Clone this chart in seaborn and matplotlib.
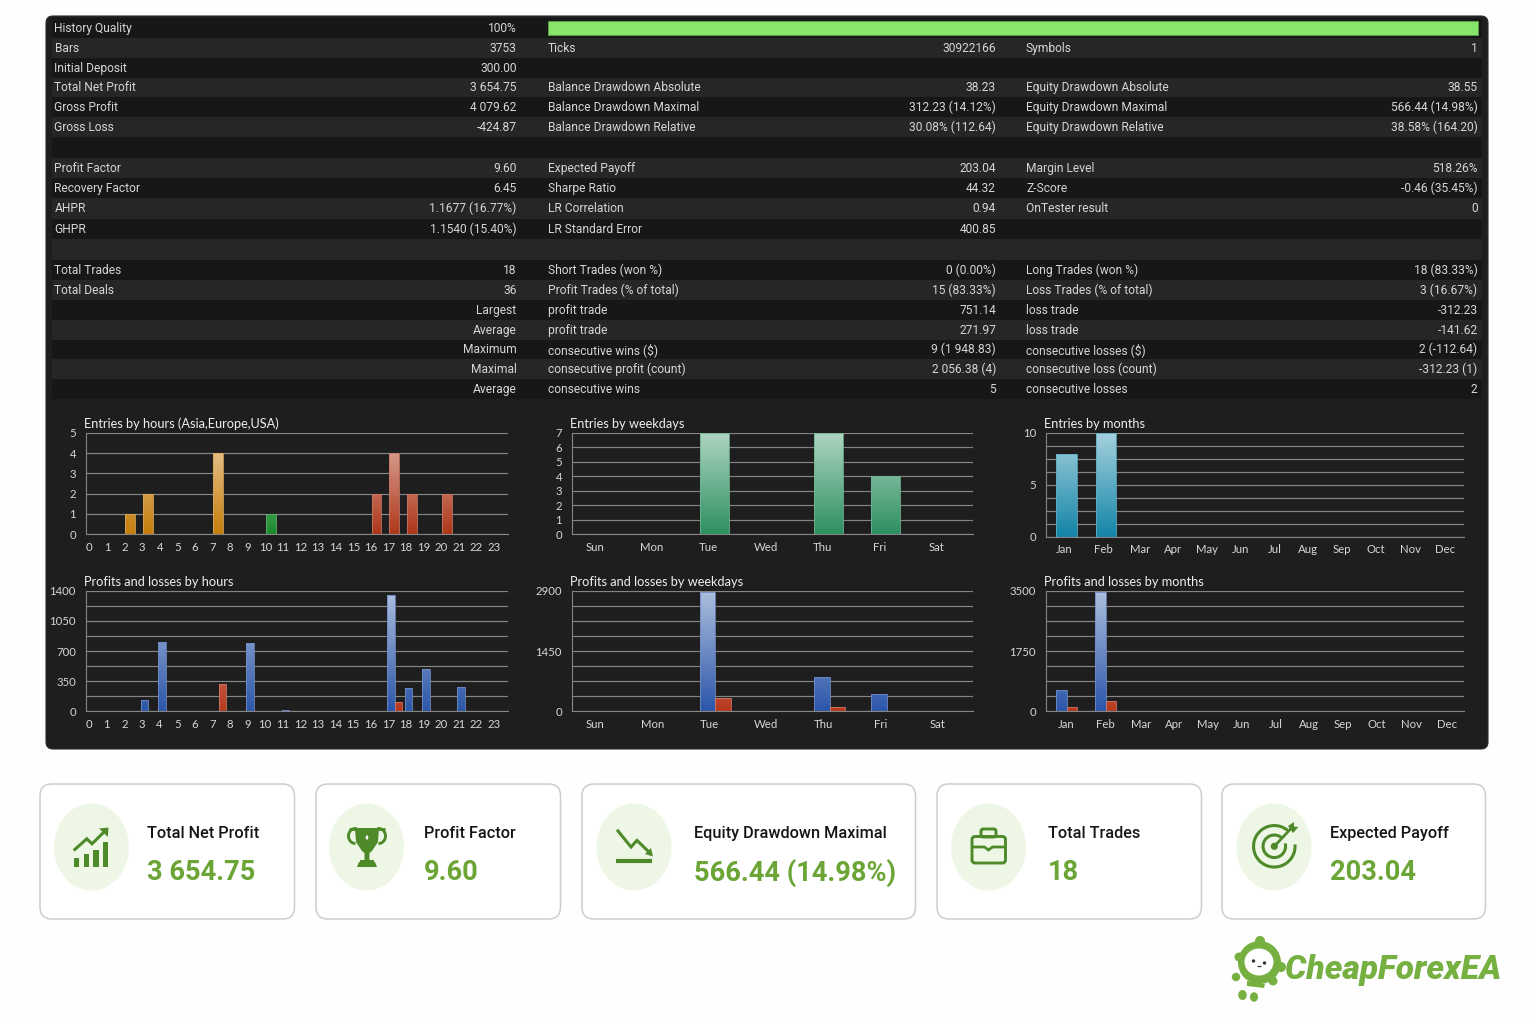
import numpy as np
import pandas as pd
import matplotlib
matplotlib.use("Agg")
import matplotlib.pyplot as plt
from matplotlib.colors import to_rgb
from matplotlib.patches import FancyBboxPatch, Ellipse, Circle, Arc, Polygon, Rectangle
import seaborn as sns

# ---------- data ----------
HOURS = [str(h) for h in range(24)]
WEEKDAYS = ["Sun", "Mon", "Tue", "Wed", "Thu", "Fri", "Sat"]
MONTHS = ["Jan", "Feb", "Mar", "Apr", "May", "Jun", "Jul", "Aug", "Sep", "Oct", "Nov", "Dec"]

hour_entries = [0, 0, 1, 2, 0, 0, 0, 4, 0, 0, 1, 0, 0, 0, 0, 0, 2, 4, 2, 0, 2, 0, 0, 0]
hour_sessions = ["Asia"] * 9 + ["Europe"] * 7 + ["USA"] * 8
hour_profit = [0, 0, 0, 131, 808, 0, 0, 0, 0, 789, 0, 15, 0, 0, 0, 0, 0, 1350, 267, 491, 0, 278, 0, 0]
hour_loss = [0, 0, 0, 0, 0, 0, 0, 312, 0, 0, 0, 0, 0, 0, 0, 0, 0, 113, 0, 0, 0, 0, 0, 0]

weekday_entries = [0, 0, 7, 0, 7, 4, 0]
weekday_profit = [0, 0, 2860, 0, 833, 424, 0]
weekday_loss = [0, 0, 312, 0, 113, 0, 0]

month_entries = [8, 10, 0, 0, 0, 0, 0, 0, 0, 0, 0, 0]
month_profit = [628, 3452, 0, 0, 0, 0, 0, 0, 0, 0, 0, 0]
month_loss = [113, 312, 0, 0, 0, 0, 0, 0, 0, 0, 0, 0]

# label1, value1, label2, value2, label3, value3 (None = blank row)
report_rows = [
    ("History Quality", "100%", "", "", "", ""),
    ("Bars", "3753", "Ticks", "30922166", "Symbols", "1"),
    ("Initial Deposit", "300.00", "", "", "", ""),
    ("Total Net Profit", "3 654.75", "Balance Drawdown Absolute", "38.23", "Equity Drawdown Absolute", "38.55"),
    ("Gross Profit", "4 079.62", "Balance Drawdown Maximal", "312.23 (14.12%)", "Equity Drawdown Maximal", "566.44 (14.98%)"),
    ("Gross Loss", "-424.87", "Balance Drawdown Relative", "30.08% (112.64)", "Equity Drawdown Relative", "38.58% (164.20)"),
    None,
    ("Profit Factor", "9.60", "Expected Payoff", "203.04", "Margin Level", "518.26%"),
    ("Recovery Factor", "6.45", "Sharpe Ratio", "44.32", "Z-Score", "-0.46 (35.45%)"),
    ("AHPR", "1.1677 (16.77%)", "LR Correlation", "0.94", "OnTester result", "0"),
    ("GHPR", "1.1540 (15.40%)", "LR Standard Error", "400.85", "", ""),
    None,
    ("Total Trades", "18", "Short Trades (won %)", "0 (0.00%)", "Long Trades (won %)", "18 (83.33%)"),
    ("Total Deals", "36", "Profit Trades (% of total)", "15 (83.33%)", "Loss Trades (% of total)", "3 (16.67%)"),
    ("", "Largest", "profit trade", "751.14", "loss trade", "-312.23"),
    ("", "Average", "profit trade", "271.97", "loss trade", "-141.62"),
    ("", "Maximum", "consecutive wins ($)", "9 (1 948.83)", "consecutive losses ($)", "2 (-112.64)"),
    ("", "Maximal", "consecutive profit (count)", "2 056.38 (4)", "consecutive loss (count)", "-312.23 (1)"),
    ("", "Average", "consecutive wins", "5", "consecutive losses", "2"),
]

kpi_titles = ["Total Net Profit", "Profit Factor", "Equity Drawdown Maximal", "Total Trades", "Expected Payoff"]
kpi_values = ["3 654.75", "9.60", "566.44 (14.98%)", "18", "203.04"]

# ---------- style / layout ----------
W, H = 1536, 1024
sns.set_theme(style="dark")
UI_FONT = "Lato"
KPI_FONT = "Roboto"
ROW_FONT = "Roboto"
plt.rcParams["font.family"] = [UI_FONT, "DejaVu Sans"]
ROW_PX = 12.0
TITLE_PX = 16.2
VALUE_PX = 27.2


def pt(px):
    return px * 0.72


PANEL = "#1e1e1e"
ROW_DARK = "#171717"
ROW_LIGHT = "#262626"
TEXT = "#d6d6d6"
GRID = "#858585"
GREEN = "#6aa536"
ICON = "#4f8a2a"
TINT = "#eef7e6"

fig = plt.figure(figsize=(W / 100, H / 100), dpi=100, facecolor="#fefefe")
bg = fig.add_axes([0, 0, 1, 1])
bg.set_xlim(0, W)
bg.set_ylim(H, 0)
bg.axis("off")

bg.add_patch(FancyBboxPatch((46, 16), 1442, 733, boxstyle="round,pad=0,rounding_size=7",
                            fc=PANEL, ec="#2b2b2b", lw=0.8))

row_tops = [18, 38, 58, 77.5, 97, 117, 137, 158, 178, 198, 219, 239, 260, 280, 300, 320, 339.5, 359, 379, 399]
row_centers = [28, 48, 68, 87, 107, 127, 147, 168, 188, 208, 229, 249, 270, 290, 310, 330, 349, 369, 389]
for i, row in enumerate(report_rows):
    bg.add_patch(Rectangle((52, row_tops[i]), 1430, row_tops[i + 1] - row_tops[i],
                           fc=ROW_DARK if i % 2 == 0 else ROW_LIGHT, ec="none"))
    if row is None:
        continue
    y = row_centers[i] + 0.7
    for text, x, ha in zip(row, (54.5, 516.5, 548, 996, 1026, 1477.5),
                           ("left", "right", "left", "right", "left", "right")):
        if text:
            bg.text(x, y, text, color=TEXT, fontsize=pt(ROW_PX), ha=ha, va="center",
                    family=[ROW_FONT, "DejaVu Sans"])
bg.add_patch(Rectangle((548, 20.5), 930, 14.5, fc="#86e56a", ec="#5fa84a", lw=0.5))


def add_axes_px(left, top, right, bottom):
    ax = fig.add_axes([left / W, 1 - bottom / H, (right - left) / W, (bottom - top) / H])
    ax.patch.set_alpha(0)
    return ax


def blend(c, t):
    c = np.array(to_rgb(c))
    return c + (1 - c) * t


def gradient_bars(ax, ymax, k=0.62, shift=0.0):
    """Repaint each seaborn bar with a vertical gradient that lightens with its value."""
    for p in list(ax.patches):
        h = p.get_height()
        base = p.get_facecolor()[:3]
        if h <= 0:
            p.set_visible(False)
            continue
        p.set_x(p.get_x() + shift)
        x0, x1 = p.get_x(), p.get_x() + p.get_width()
        ys = np.linspace(0, h, 41)
        mids = (ys[:-1] + ys[1:]) / 2
        rgba = np.array([[[*blend(base, m / ymax * k), 1.0]] for m in mids])
        mesh = ax.pcolormesh([x0, x1], ys, rgba, zorder=2.4, shading="flat")
        mesh.set_edgecolor("none")
        p.set_facecolor("none")
        p.set_edgecolor(blend(base, 0.32))
        p.set_linewidth(0.6)
        p.set_zorder(2.6)


def style_axis(ax, ymax, y_labels, cats, label_offset, title, right_cat=None):
    n_cats = len(cats)
    n_div = len(y_labels) - 1
    y_ticks = np.linspace(0, ymax, n_div + 1)
    ax.set_yticks(y_ticks, y_labels)
    ax.set_ylim(0, ymax)
    edges = np.arange(n_cats) - 0.5
    ax.set_xticks(edges, [""] * n_cats)
    ax.set_xticks(np.arange(n_cats) + label_offset, cats, minor=True)
    ax.set_xlim(-0.5, right_cat if right_cat is not None else n_cats - 0.5)
    ax.tick_params(axis="x", which="major", length=2.4, width=0.7, color=GRID, pad=0)
    ax.tick_params(axis="x", which="minor", length=0, pad=5.3, labelsize=pt(11.4), labelcolor=TEXT)
    ax.tick_params(axis="y", which="major", length=2.2, width=0.7, color=GRID, pad=4.8,
                   labelsize=pt(11.4), labelcolor=TEXT)
    ax.grid(axis="y", color=GRID, lw=0.85)
    ax.grid(axis="x", visible=False)
    ax.set_axisbelow(True)
    ax.set_xlabel("")
    ax.set_ylabel("")
    for s in ("top", "right"):
        ax.spines[s].set_visible(False)
    for s in ("left", "bottom"):
        ax.spines[s].set_color(GRID)
        ax.spines[s].set_linewidth(0.8)
    ax.set_title(title, loc="left", color="#efefef", fontsize=pt(12.7), pad=3.4, x=-0.003)


def entries_chart(box, cats, values, palette, hue, width, ymax, y_labels, label_offset, title,
                  right_cat=None, scale=None, shift=0.0):
    ax = add_axes_px(*box)
    df = pd.DataFrame({"cat": cats, "value": values, "group": hue})
    sns.barplot(data=df, x="cat", y="value", hue="group", palette=palette, order=cats,
                dodge=False, width=width, saturation=1, legend=False, ax=ax)
    gradient_bars(ax, ymax, shift=shift)
    if scale is not None:
        ax.set_xscale("function", functions=scale)
    style_axis(ax, ymax, y_labels, cats, label_offset, title, right_cat)
    return ax


def pnl_chart(box, cats, profit, loss, width, ymax, y_labels, label_offset, title,
              right_cat=None, scale=None, shift=0.0):
    ax = add_axes_px(*box)
    df = pd.DataFrame({
        "cat": list(cats) * 2,
        "value": list(profit) + list(loss),
        "kind": ["Profit"] * len(cats) + ["Loss"] * len(cats),
    })
    sns.barplot(data=df, x="cat", y="value", hue="kind", order=cats, hue_order=["Profit", "Loss"],
                palette={"Profit": "#2a55a8", "Loss": "#b5381c"}, dodge=True, gap=0, width=width,
                saturation=1, legend=False, ax=ax)
    gradient_bars(ax, ymax, shift=shift)
    if scale is not None:
        ax.set_xscale("function", functions=scale)
    style_axis(ax, ymax, y_labels, cats, label_offset, title, right_cat)
    return ax


blank = ""
# hours
entries_chart((85.7, 432.7, 508, 534.3), HOURS, hour_entries,
              {"Asia": "#c67c0a", "Europe": "#1a8a2c", "USA": "#ad3518"}, hour_sessions,
              0.54, 5, ["0", "1", "2", "3", "4", "5"], -0.29, "Entries by hours (Asia,Europe,USA)", shift=0.03)
pnl_chart((85.7, 590.7, 508, 711.3), HOURS, hour_profit, hour_loss, 0.84, 1400,
          ["0", blank, "350", blank, "700", blank, "1050", blank, "1400"], -0.3, "Profits and losses by hours",
          shift=0.05)

# weekdays
entries_chart((571.7, 432.7, 973.3, 534.3), WEEKDAYS, weekday_entries,
              {"all": "#2b8f5e"}, ["all"] * 7, 0.51, 7,
              ["0", "1", "2", "3", "4", "5", "6", "7"], -0.1, "Entries by weekdays", right_cat=6.54)
pnl_chart((571.7, 590.7, 973.3, 711.3), WEEKDAYS, weekday_profit, weekday_loss, 0.54, 2900,
          ["0", blank, blank, blank, "1450", blank, blank, blank, "2900"], -0.09, "Profits and losses by weekdays",
          right_cat=6.54, shift=0.02)

# months: the source chart gives Jan and Feb wider cells, so the axis is piecewise linear
month_idx = np.arange(13) - 0.5
month_edges = np.array([0, 40, 78.5, 112, 145.5, 179.5, 213, 246.5, 280, 313.5, 348.5, 383.5, 418.3])
month_scale = (lambda v: np.interp(v, month_idx, month_edges),
               lambda v: np.interp(v, month_edges, month_idx))
entries_chart((1045.7, 432.7, 1464, 536.7), MONTHS, month_entries,
              {"all": "#1284a6"}, ["all"] * 12, 0.52, 10,
              ["0", blank, blank, blank, "5", blank, blank, blank, "10"], -0.03, "Entries by months",
              scale=month_scale, shift=0.02)
pnl_chart((1045.7, 590.7, 1464, 711.3), MONTHS, month_profit, month_loss, 0.54, 3500,
          ["0", blank, blank, blank, "1750", blank, blank, blank, "3500"], 0.0, "Profits and losses by months",
          scale=month_scale, shift=0.02)

# ---------- KPI cards ----------
card_boxes = [(40, 294.5), (316, 560.5), (582, 915.5), (937, 1201.5), (1222, 1485.5)]
circle_x = [91.5, 366.5, 634, 988.5, 1274]
text_x = [147, 424, 694, 1048, 1330]
for (l, r), cx, tx, title, value in zip(card_boxes, circle_x, text_x, kpi_titles, kpi_values):
    bg.add_patch(FancyBboxPatch((l, 784), r - l, 135, boxstyle="round,pad=0,rounding_size=12",
                                fc="#ffffff", ec="#cdcdcd", lw=1.1))
    bg.add_patch(Ellipse((cx, 847), 75, 87, fc=TINT, ec="none"))
    bg.text(tx, 833.5, title, family=[KPI_FONT, "DejaVu Sans"], fontsize=pt(TITLE_PX), weight="medium",
            color="#151515", ha="left", va="center")
    bg.text(tx, 873, value, family=[KPI_FONT, "DejaVu Sans"], fontsize=pt(VALUE_PX), weight="bold",
            color=GREEN, ha="left", va="center")


def line(xs, ys, lw=2.2, color=ICON, **kw):
    bg.plot(xs, ys, color=color, lw=lw, solid_capstyle="butt", solid_joinstyle="miter", **kw)


def poly(points, fc=ICON):
    bg.add_patch(Polygon(points, closed=True, fc=fc, ec="none"))


# chart-up icon
for x0, top in zip((73.7, 83.6, 93.4, 103), (858, 854, 849.5, 841.5)):
    bg.add_patch(Rectangle((x0, top), 5.2, 867 - top, fc=ICON, ec="none"))
line([73.7, 86.8, 92, 105], [850.5, 838.8, 843.8, 831])
poly([(99, 828.5), (108.5, 827.5), (107.8, 837)])

# trophy icon
poly([(355, 828), (379, 828), (378, 842), (372, 851), (369.5, 853), (369.5, 860), (364.5, 860), (364.5, 853), (362, 851), (356, 842)])
bg.add_patch(Rectangle((360, 860), 14, 2.5, fc=ICON, ec="none"))
poly([(357, 867), (377, 867), (375, 862), (359, 862)])
bg.add_patch(Arc((355.5, 836), 14, 15, theta1=90, theta2=280, ec=ICON, lw=2.1))
bg.add_patch(Arc((378.5, 836), 14, 15, theta1=-100, theta2=90, ec=ICON, lw=2.1))
line([349, 356], [828.5, 828.5], lw=2.1)
line([378, 385], [828.5, 828.5], lw=2.1)
bg.add_patch(Ellipse((367, 837.5), 2.6, 4.2, fc="#ffffff", ec="none"))

# drawdown icon
line([617, 631, 637, 650], [829.7, 847, 840.4, 853], lw=2.2)
poly([(653, 856.5), (645, 854), (651, 848)])
line([615.7, 652.4], [861, 861], lw=3)

# briefcase icon
bg.add_patch(FancyBboxPatch((972, 836.5), 33.5, 26.5, boxstyle="round,pad=0,rounding_size=3",
                            fc="none", ec=ICON, lw=2.1))
bg.add_patch(FancyBboxPatch((981, 829), 15, 8, boxstyle="round,pad=0,rounding_size=2.2",
                            fc="none", ec=ICON, lw=2.1))
line([972, 984.5, 988.5, 992.5, 1005.5], [847, 847, 850, 847, 847], lw=2)

# target icon
bg.add_patch(Arc((1274.3, 846.3), 41.5, 41.5, theta1=-5, theta2=310, ec=ICON, lw=2.2))
bg.add_patch(Arc((1274.3, 846.3), 22.5, 22.5, theta1=-15, theta2=310, ec=ICON, lw=2.2))
bg.add_patch(Circle((1274.3, 846.3), 3.6, fc=ICON, ec="none"))
line([1274.3, 1291], [846.3, 828.5], lw=2)
poly([(1288, 826), (1294, 822), (1294, 826.5), (1298.5, 827), (1293, 833)])

# ---------- logo ----------
LOGO = "#75b041"
for xy, r in (((1260, 941), 5), ((1239, 957), 4.5), ((1281, 967), 5), ((1236, 977), 4.2), ((1273, 981), 4.5)):
    bg.add_patch(Circle(xy, r, fc=LOGO, ec="none"))
bg.add_patch(Circle((1259.5, 962.5), 21.5, fc=LOGO, ec="none"))
bg.add_patch(Ellipse((1259, 962), 29, 27, fc="#ffffff", ec="none"))
bg.add_patch(Circle((1253.5, 961), 1.7, fc="#333333", ec="none"))
bg.add_patch(Circle((1264.5, 963), 1.7, fc="#333333", ec="none"))
line([1257, 1261], [965.5, 965.5], lw=0.9, color="#333333")
poly([(1247, 981), (1265, 984), (1264, 988), (1247, 986)], fc=LOGO)
bg.add_patch(Ellipse((1242.5, 995), 8.5, 10, fc=LOGO, ec="none"))
bg.add_patch(Ellipse((1254, 997), 8, 9.5, fc=LOGO, ec="none"))
bg.text(1285, 969.5, "CheapForexEA", family=["Roboto", "DejaVu Sans"], style="italic", weight="black",
        fontsize=pt(33.5), color=LOGO, ha="left", va="center")

fig.savefig("out.png", dpi=100, facecolor=fig.get_facecolor())
